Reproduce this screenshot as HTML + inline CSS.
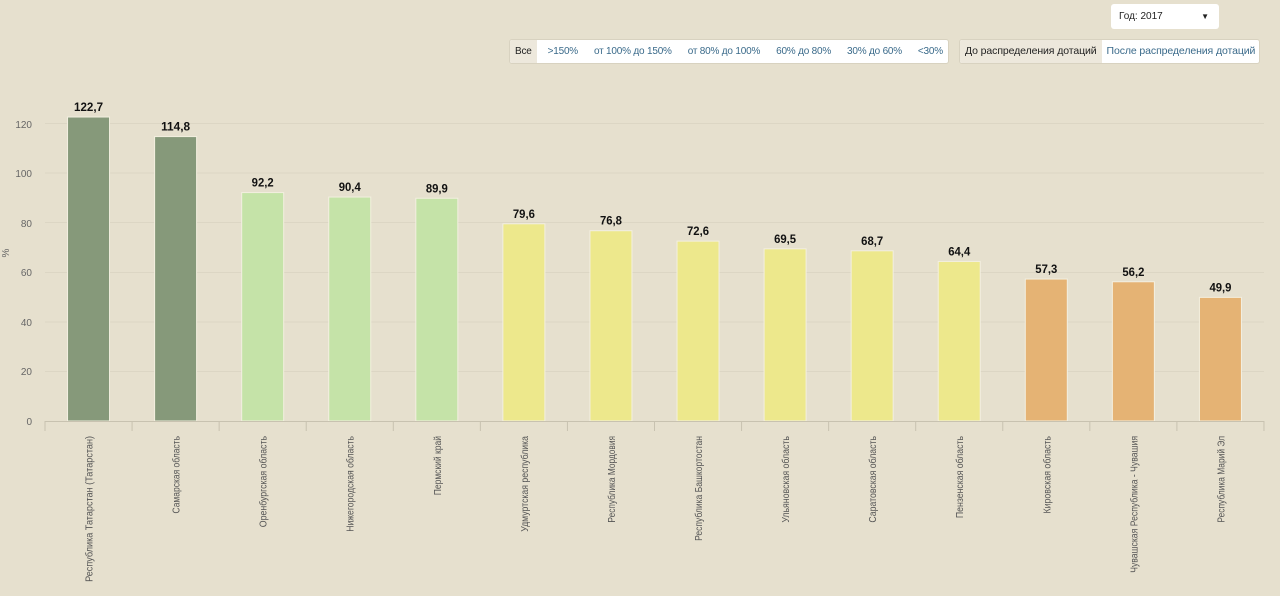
<!DOCTYPE html>
<html><head><meta charset="utf-8"><style>
body{margin:0;width:1280px;height:596px;background:#e6e0ce;font-family:"Liberation Sans",sans-serif;overflow:hidden;position:relative}
.sel{position:absolute;left:1111px;top:4px;width:108px;height:25px;background:#fff;border-radius:3px;font-size:10px;line-height:25px;box-sizing:border-box;padding-left:8px;color:#222}
.sel span{position:absolute;right:10px;font-size:8px}
.grp{position:absolute;top:39px;height:25px;background:#fff;border:1px solid #d8d2c0;border-radius:3px;display:flex;justify-content:space-between;font-size:10px;line-height:23px;box-sizing:border-box;overflow:hidden}
.grp div{padding:0 5px;color:#3a6a8a;white-space:nowrap;letter-spacing:-0.2px}
.grp div.a{background:#ede8dc;color:#222}
.g2{justify-content:flex-start;font-size:10.5px}
.g2 div{letter-spacing:-0.1px}
</style></head><body>
<div class="sel">Год: 2017<span>▼</span></div>
<div class="grp" style="left:509px;width:440px"><div class="a">Все</div><div>&gt;150%</div><div>от 100% до 150%</div><div>от 80% до 100%</div><div>60% до 80%</div><div>30% до 60%</div><div>&lt;30%</div></div>
<div class="grp g2" style="left:959px;width:301px"><div class="a" style="width:132px">До распределения дотаций</div><div>После распределения дотаций</div></div>
<svg width="1280" height="596" style="position:absolute;left:0;top:0" xmlns="http://www.w3.org/2000/svg" font-family="Liberation Sans, sans-serif">
<g stroke="#dcd6c4" stroke-width="1">
<line x1="45" x2="1264" y1="371.5" y2="371.5"/><line x1="45" x2="1264" y1="322" y2="322"/><line x1="45" x2="1264" y1="272.5" y2="272.5"/><line x1="45" x2="1264" y1="222.5" y2="222.5"/><line x1="45" x2="1264" y1="173" y2="173"/><line x1="45" x2="1264" y1="123.5" y2="123.5"/>
</g>
<g font-size="10" fill="#666" text-anchor="end">
<text x="32" y="425">0</text><text x="32" y="375">20</text><text x="32" y="326">40</text><text x="32" y="276">60</text><text x="32" y="227">80</text><text x="32" y="177">100</text><text x="32" y="128">120</text>
</g>
<text x="9" y="253" font-size="10" fill="#666" transform="rotate(-90 9 253)" text-anchor="middle">%</text>
<g id="bars"></g>
<line x1="45" x2="1264" y1="421.5" y2="421.5" stroke="#c8c2b0"/>
</svg>
<script>
var d=[["Республика Татарстан (Татарстан)",122.7,"#86997a"],["Самарская область",114.8,"#86997a"],["Оренбургская область",92.2,"#c5e3a8"],["Нижегородская область",90.4,"#c5e3a8"],["Пермский край",89.9,"#c5e3a8"],["Удмуртская республика",79.6,"#ede88c"],["Республика Мордовия",76.8,"#ede88c"],["Республика Башкортостан",72.6,"#ede88c"],["Ульяновская область",69.5,"#ede88c"],["Саратовская область",68.7,"#ede88c"],["Пензенская область",64.4,"#ede88c"],["Кировская область",57.3,"#e5b374"],["Чувашская Республика - Чувашия",56.2,"#e5b374"],["Республика Марий Эл",49.9,"#e5b374"]];
var s="",w=87.07;
for(var i=0;i<=14;i++){var x=45+i*w;s+='<line x1="'+x+'" x2="'+x+'" y1="421" y2="431" stroke="#c8c2b0"/>';}
d.forEach(function(r,i){var c=45+w*(i+.5),h=r[1]*2.4775,y=421-h;
var t=r[1].toFixed(1).replace(".",",");
s+='<rect x="'+(c-21)+'" y="'+y+'" width="42" height="'+h+'" fill="'+r[2]+'" stroke="#f3efe0" stroke-width="1"/>';
s+='<text x="'+c+'" y="'+(y-6)+'" font-size="12" font-weight="bold" fill="#111" text-anchor="middle" textLength="'+(t.length==5?29:22)+'" lengthAdjust="spacingAndGlyphs">'+t+'</text>';
var L=r[0].length*4.56;
s+='<text transform="translate('+(c+4)+',436) rotate(-90)" font-size="10" fill="#555" text-anchor="end" textLength="'+L+'" lengthAdjust="spacingAndGlyphs">'+r[0]+'</text>';});
document.getElementById("bars").innerHTML=s;
</script>
</body></html>
